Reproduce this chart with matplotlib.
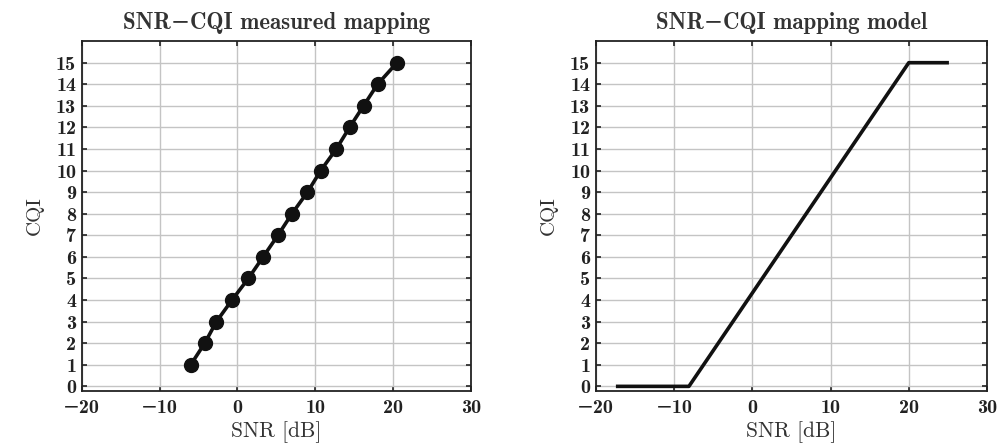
import numpy as np
import matplotlib
matplotlib.use("Agg")
import matplotlib.pyplot as plt
from matplotlib.ticker import FuncFormatter

plt.rcParams['font.family'] = ['cmr10', 'DejaVu Serif']
plt.rcParams['mathtext.fontset'] = 'cm'
plt.rcParams['axes.formatter.use_mathtext'] = True

# measured SNR per CQI index
cqi_meas = [1, 2, 3, 4, 5, 6, 7, 8, 9, 10, 11, 12, 13, 14, 15]
snr_meas = [-6.0, -4.2, -2.7, -0.7, 1.4, 3.3, 5.2, 7.0, 9.0, 10.7, 12.7, 14.4, 16.2, 18.0, 20.5]

# piecewise linear model
snr_model = [-17.2, -8.1, 20.0, 24.9]
cqi_model = [0, 0, 15, 15]

xticks = [-20, -10, 0, 10, 20, 30]
yticks = list(range(0, 16))

# plain-text tick labels so they can use the bold CM face
num_fmt = FuncFormatter(lambda v, pos: ('%d' % v).replace('-', '\u2212'))

fig = plt.figure(figsize=(9.98, 4.47), dpi=100)
ax1 = fig.add_axes([0.0819, 0.126, 0.390, 0.782])
ax2 = fig.add_axes([0.597, 0.126, 0.392, 0.782])

ax1.plot(snr_meas, cqi_meas, color='#111111', lw=2.6, marker='o', ms=10, zorder=3)
ax2.plot(snr_model, cqi_model, color='#111111', lw=2.6, zorder=3)

titles = ['SNR\u2212CQI measured mapping', 'SNR\u2212CQI mapping model']
for ax, title in zip([ax1, ax2], titles):
    ax.set_xlim(-20, 30)
    ax.set_ylim(-0.2, 16)
    ax.set_xticks(xticks)
    ax.set_yticks(yticks)
    ax.xaxis.set_major_formatter(num_fmt)
    ax.yaxis.set_major_formatter(num_fmt)
    ax.grid(True, color='#c4c4c4', lw=1.0)
    ax.set_axisbelow(True)
    ax.tick_params(direction='in', top=True, right=True, length=3.5, width=1.2,
                   labelsize=14.5, colors='#222222', pad=4)
    ax.tick_params(axis='x', pad=6)
    for lbl in ax.get_xticklabels() + ax.get_yticklabels():
        lbl.set_fontfamily(['cmb10', 'DejaVu Serif'])
    for sp in ax.spines.values():
        sp.set_linewidth(1.3)
        sp.set_color('#222222')
    ax.set_xlabel('SNR [dB]', fontsize=15.5, color='#333333', labelpad=3)
    ax.set_ylabel('CQI', fontsize=15, color='#333333', labelpad=9)
    ax.set_title(title, fontsize=16.5, family=['cmb10', 'DejaVu Serif'],
                 color='#333333', pad=9)

fig.savefig('out.png', dpi=100)
